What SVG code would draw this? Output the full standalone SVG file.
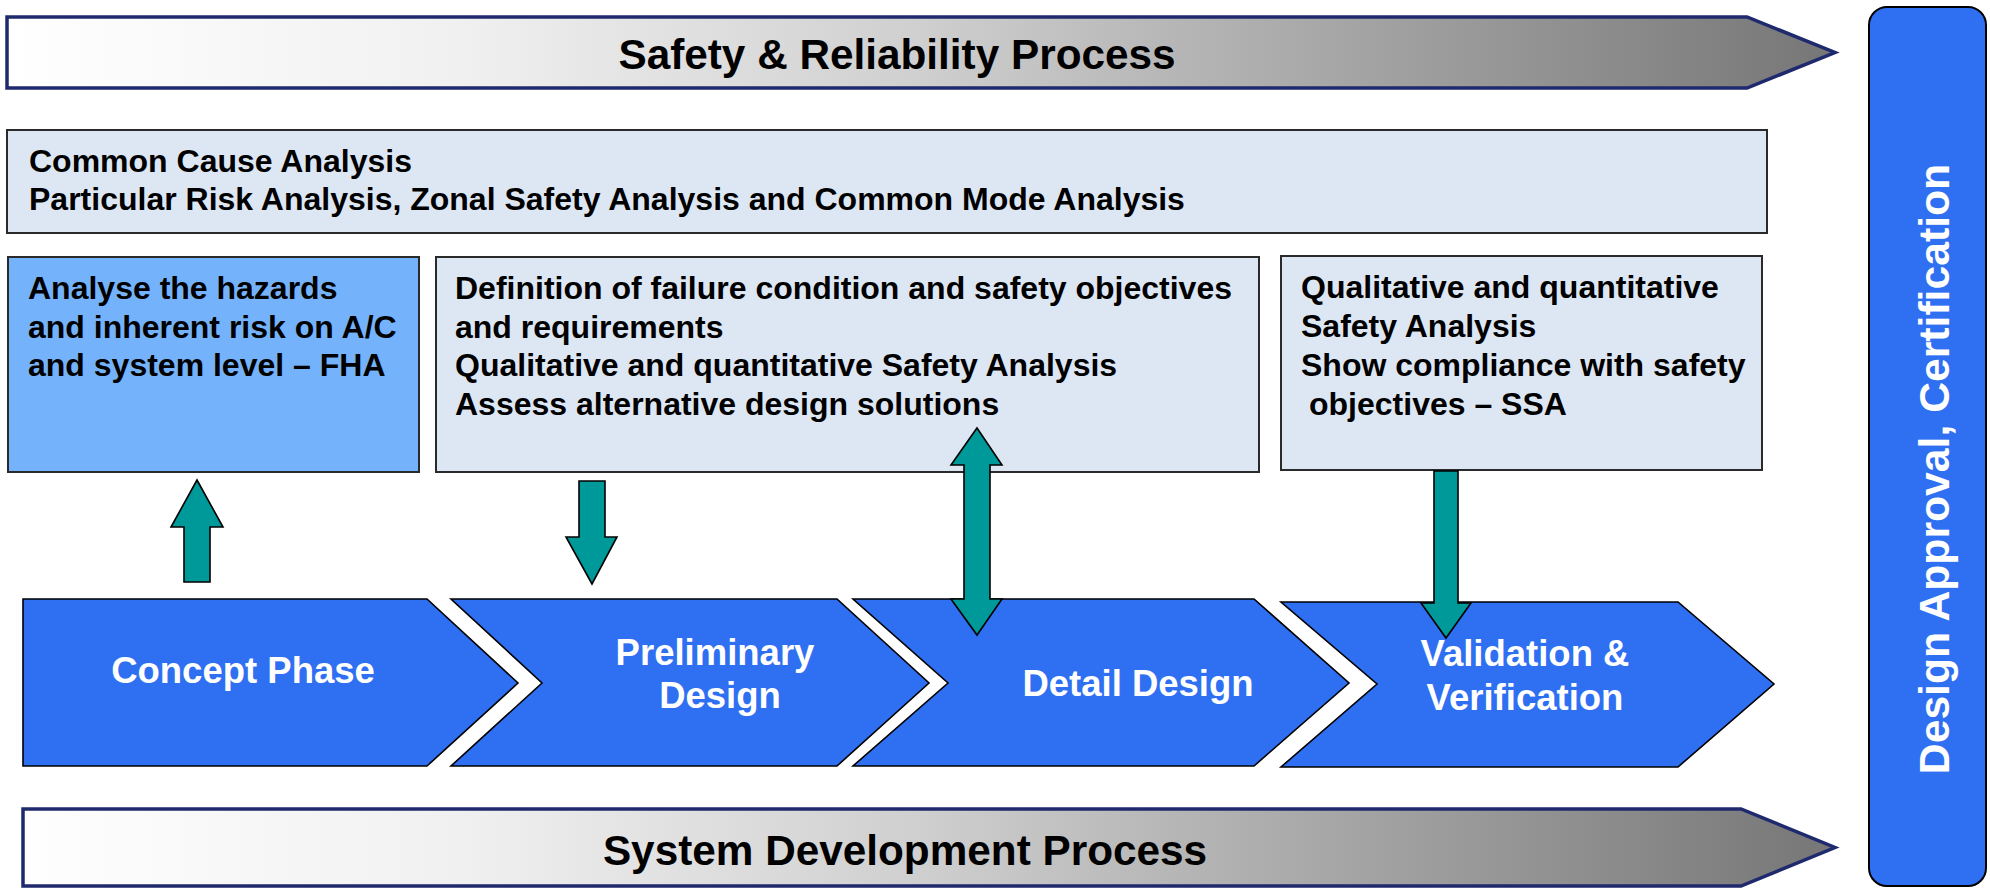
<svg xmlns="http://www.w3.org/2000/svg" width="1990" height="889" viewBox="0 0 1990 889">
<defs>
<linearGradient id="bannerGrad" gradientUnits="userSpaceOnUse" x1="7" y1="0" x2="1835" y2="0">
<stop offset="0" stop-color="#FFFFFF"/>
<stop offset="0.25" stop-color="#F0F0F0"/>
<stop offset="0.5" stop-color="#CFCFCF"/>
<stop offset="0.75" stop-color="#A2A2A2"/>
<stop offset="1" stop-color="#767676"/>
</linearGradient>
<style>
.banner{fill:url(#bannerGrad);stroke:#1F2A6E;stroke-width:3.5;stroke-linejoin:miter}
.title{font-family:"Liberation Sans",Arial,sans-serif;font-weight:bold;font-size:42.3px;fill:#000;text-anchor:middle}
.box{fill:#DDE7F3;stroke:#2A2A2A;stroke-width:2}
.boxFHA{fill:#74B3FC;stroke:#2A2A2A;stroke-width:2}
.txt{font-family:"Liberation Sans",Arial,sans-serif;font-weight:bold;font-size:32px;fill:#000}
.phase{fill:#2F6FF2;stroke:#000;stroke-width:1.6;stroke-linejoin:miter}
.ptxt{font-family:"Liberation Sans",Arial,sans-serif;font-weight:bold;font-size:36.5px;fill:#FFF;text-anchor:middle}
.cert{fill:#2F6FF2;stroke:#000;stroke-width:2}
.ctxt{font-family:"Liberation Sans",Arial,sans-serif;font-weight:bold;font-size:42.7px;fill:#FFF;text-anchor:middle}
.arrow{fill:#009999;stroke:#000;stroke-width:1.6;stroke-linejoin:miter}
</style>
</defs>
<rect width="1990" height="889" fill="#FFFFFF"/>

<g id="safety-process">
<polygon class="banner" points="7,17 1747,17 1835,52.5 1747,88 7,88"/>
<text class="title" x="897" y="68.5">Safety &amp; Reliability Process</text>
</g>

<g id="common-cause">
<rect class="box" x="7" y="130" width="1760" height="103"/>
<text class="txt" x="29" y="172">Common Cause Analysis</text>
<text class="txt" x="29" y="210">Particular Risk Analysis, Zonal Safety Analysis and Common Mode Analysis</text>
</g>

<g id="fha">
<rect class="boxFHA" x="8" y="257" width="411" height="215"/>
<text class="txt" x="28" y="299">Analyse the hazards</text>
<text class="txt" x="28" y="337.5">and inherent risk on A/C</text>
<text class="txt" x="28" y="376">and system level – FHA</text>
</g>

<g id="definition">
<rect class="box" x="436" y="257" width="823" height="215"/>
<text class="txt" x="455" y="299">Definition of failure condition and safety objectives</text>
<text class="txt" x="455" y="337.5">and requirements</text>
<text class="txt" x="455" y="376">Qualitative and quantitative Safety Analysis</text>
<text class="txt" x="455" y="414.5">Assess alternative design solutions</text>
</g>

<g id="ssa">
<rect class="box" x="1281" y="256" width="481" height="214"/>
<text class="txt" x="1301" y="298">Qualitative and quantitative</text>
<text class="txt" x="1301" y="337">Safety Analysis</text>
<text class="txt" x="1301" y="375.5">Show compliance with safety</text>
<text class="txt" x="1309" y="414.5">objectives – SSA</text>
</g>

<g id="concept-phase">
<polygon class="phase" points="23,599 427,599 518,683 427,766 23,766"/>
<text class="ptxt" x="243" y="683">Concept Phase</text>
</g>

<g id="preliminary-design">
<polygon class="phase" points="451,599 837,599 929,683 837,766 451,766 542,683"/>
<text class="ptxt" x="715" y="665">Preliminary</text>
<text class="ptxt" x="720" y="708">Design</text>
</g>

<g id="detail-design">
<polygon class="phase" points="853,599 1254,599 1349,683 1254,766 853,766 948,683"/>
<text class="ptxt" x="1138" y="696">Detail Design</text>
</g>

<g id="validation-verification">
<polygon class="phase" points="1281,602 1678,602 1774,684 1678,767 1281,767 1377,684"/>
<text class="ptxt" x="1525" y="666">Validation &amp;</text>
<text class="ptxt" x="1525" y="710">Verification</text>
</g>

<g id="system-development">
<polygon class="banner" points="23,809 1741,809 1835,847.5 1741,886 23,886"/>
<text class="title" x="905" y="865">System Development Process</text>
</g>

<g id="certification">
<rect class="cert" x="1869" y="7" width="117" height="879" rx="18" ry="18"/>
<text class="ctxt" transform="translate(1949,469) rotate(-90)" x="0" y="0">Design Approval, Certification</text>
</g>

<g id="connectors">
<polygon class="arrow" points="197,480 223,527 210,527 210,582 184,582 184,527 171,527"/>
<polygon class="arrow" points="579,481 605,481 605,537 617,537 592,584 566,537 579,537"/>
<polygon class="arrow" points="977,428 1002,465 990,465 990,599 1002,599 977,635 951,599 964,599 964,465 951,465"/>
<polygon class="arrow" points="1434,471 1458,471 1458,603 1471,603 1446,638 1421,603 1434,603"/>
</g>
</svg>
